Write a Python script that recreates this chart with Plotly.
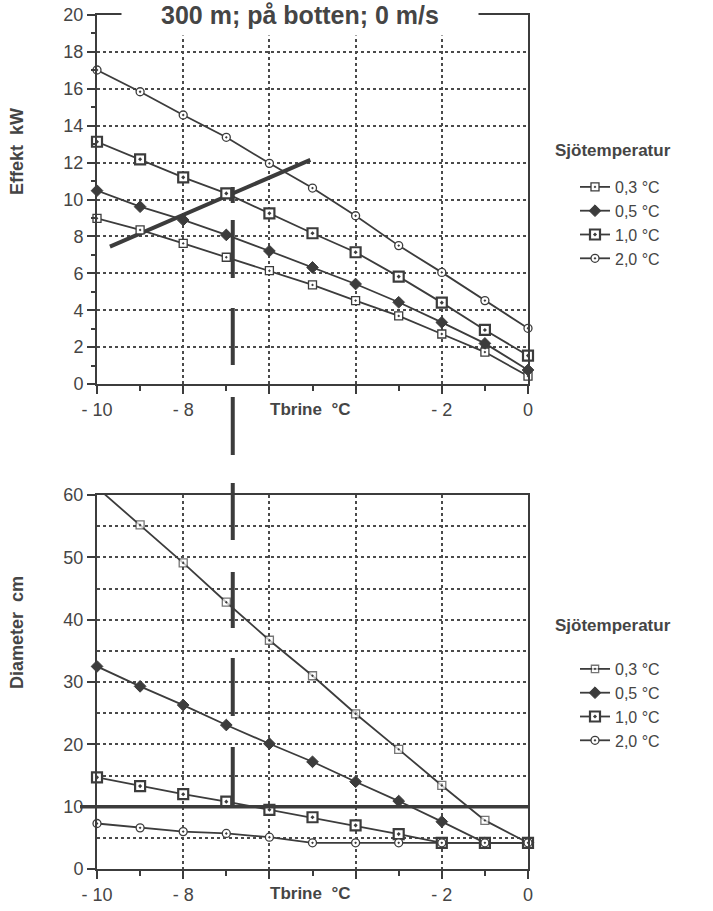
import plotly.graph_objects as go

# ---------------- data ----------------
tbrine = [-10, -9, -8, -7, -6, -5, -4, -3, -2, -1, 0]
series_names = ["0,3 °C", "0,5 °C", "1,0 °C", "2,0 °C"]

effekt_03 = [8.98, 8.35, 7.62, 6.87, 6.14, 5.37, 4.52, 3.69, 2.71, 1.73, 0.43]
effekt_05 = [10.48, 9.61, 8.89, 8.08, 7.21, 6.32, 5.42, 4.43, 3.34, 2.20, 0.76]
effekt_10 = [13.13, 12.18, 11.20, 10.33, 9.25, 8.17, 7.14, 5.82, 4.41, 2.93, 1.54]
effekt_20 = [17.02, 15.84, 14.58, 13.37, 11.96, 10.62, 9.12, 7.50, 6.05, 4.52, 3.02]

diam_03 = [61.2, 55.2, 49.1, 42.8, 36.7, 31.0, 24.9, 19.2, 13.4, 7.8, 4.2]
diam_05 = [32.5, 29.3, 26.3, 23.1, 20.1, 17.2, 14.0, 10.9, 7.6, 4.2, 4.2]
diam_10 = [14.7, 13.3, 12.0, 10.8, 9.5, 8.3, 7.0, 5.6, 4.2, 4.2, 4.2]
diam_20 = [7.3, 6.6, 6.0, 5.7, 5.1, 4.2, 4.2, 4.2, 4.2, 4.2, 4.2]

# hand-drawn reference lines
cross_line_x = [-9.7, -5.05]
cross_line_y = [7.45, 12.15]
diam_limit = 10
marker_x = -6.85

x_tickvals = [-10, -8, -6, -4, -2, 0]
x_ticktext = ["- 10", "- 8", "", "", "- 2", "0"]

# ---------------- styling ----------------
W, H = 713, 911
ML, MR, MT, MB = 97, 185, 15, 42
PW = W - ML - MR
PH = H - MT - MB
def py(p):  # pixel y -> paper y
    return (H - MB - p) / PH
def px(p):  # pixel x -> paper x
    return (p - ML) / PW

INK = "#3c3c3c"
TXT = "#454545"
FONT = "Liberation Sans, Arial, sans-serif"

styles = [
    dict(symbol="square-dot", size=8, color="white", line=dict(color=INK, width=1.3)),
    dict(symbol="diamond", size=9, color=INK, line=dict(color=INK, width=1)),
    dict(symbol="square-dot", size=10, color="white", line=dict(color=INK, width=2.2)),
    dict(symbol="circle-dot", size=8, color="white", line=dict(color=INK, width=1.3)),
]

fig = go.Figure()

top_sets = [effekt_03, effekt_05, effekt_10, effekt_20]
bot_sets = [diam_03, diam_05, diam_10, diam_20]

fig.add_trace(go.Scatter(x=cross_line_x, y=cross_line_y, mode="lines",
                         line=dict(color=INK, width=4), showlegend=False,
                         hoverinfo="skip", xaxis="x", yaxis="y"))

for name, vals, st in zip(series_names, top_sets, styles):
    fig.add_trace(go.Scatter(x=tbrine, y=vals, mode="lines+markers", name=name,
                             line=dict(color=INK, width=1.8), marker=st,
                             cliponaxis=False, xaxis="x", yaxis="y", legend="legend"))

for i, (name, vals, st) in enumerate(zip(series_names, bot_sets, styles)):
    m = dict(st)
    if i == 0:
        m["size"] = [0] + [st["size"]] * (len(vals) - 1)
    fig.add_trace(go.Scatter(x=tbrine, y=vals, mode="lines+markers", name=name,
                             line=dict(color=INK, width=1.8), marker=m,
                             cliponaxis=False, xaxis="x2", yaxis="y2", legend="legend2"))

axis_common = dict(
    showline=True, linecolor=INK, linewidth=2, mirror=True,
    ticks="outside", ticklen=8, tickwidth=2, tickcolor=INK,
    showgrid=True, gridcolor="#4a4a4a", gridwidth=1.5, griddash="dot",
    zeroline=False, automargin=False,
    tickfont=dict(family=FONT, size=18, color=TXT),
)

top_dom = [1 - (384 - MT) / PH, 1]
bot_dom = [0, (H - MB - 495) / PH]

fig.update_layout(
    width=W, height=H,
    margin=dict(l=ML, r=MR, t=MT, b=MB, autoexpand=False),
    paper_bgcolor="white", plot_bgcolor="white",
    font=dict(family=FONT, color=TXT),
    xaxis=dict(axis_common, domain=[0, 1], anchor="y", range=[-10, 0],
               tickvals=x_tickvals, ticktext=x_ticktext,
               minor=dict(dtick=1, ticks="outside", ticklen=5, tickwidth=1.5, tickcolor=INK, showgrid=False)),
    yaxis=dict(axis_common, domain=top_dom, anchor="x", range=[0, 20], dtick=2,
               minor=dict(dtick=1, ticks="outside", ticklen=4, tickwidth=1.5, tickcolor=INK, showgrid=False)),
    xaxis2=dict(axis_common, domain=[0, 1], anchor="y2", range=[-10, 0],
                tickvals=x_tickvals, ticktext=x_ticktext,
                minor=dict(dtick=1, ticks="outside", ticklen=5, tickwidth=1.5, tickcolor=INK, showgrid=False)),
    yaxis2=dict(axis_common, domain=bot_dom, anchor="x2", range=[0, 60], dtick=10,
                minor=dict(dtick=5, ticks="", showgrid=True, gridcolor="#4a4a4a", gridwidth=1.5, griddash="dot")),
    legend=dict(x=px(575), y=py(170), xanchor="left", yanchor="top",
                font=dict(family=FONT, size=16, color=TXT), bgcolor="rgba(0,0,0,0)",
                tracegroupgap=0),
    legend2=dict(x=px(575), y=py(652), xanchor="left", yanchor="top",
                 font=dict(family=FONT, size=16, color=TXT), bgcolor="rgba(0,0,0,0)",
                 tracegroupgap=0),
    showlegend=True,
)

def ann(text, xp, yp, size, angle=0, xanchor="center", **kw):
    d = dict(text=text, x=px(xp), y=py(yp), xref="paper", yref="paper",
             xanchor=xanchor, yanchor="middle", showarrow=False, textangle=angle,
             font=dict(family=FONT, size=size, color=TXT))
    d.update(kw)
    return d

annotations = [
    ann("<b>300 m; på botten; 0 m/s</b>", 300, 15, 25, bgcolor="white", width=354, height=38),
    ann("<b>Effekt  kW</b>", 17, 152, 18, angle=-90),
    ann("<b>Diameter  cm</b>", 17, 633, 18, angle=-90),
    ann("<b>Tbrine  °C</b>", 310, 410, 17),
    ann("<b>Tbrine  °C</b>", 310, 894, 17),
    ann("<b>Sjötemperatur</b>", 553, 151, 17, xanchor="left"),
    ann("<b>Sjötemperatur</b>", 553, 625, 17, xanchor="left"),
]
fig.update_layout(annotations=annotations)

shapes = [
    dict(type="line", xref="paper", yref="y2", x0=px(80), x1=1, y0=diam_limit, y1=diam_limit,
         line=dict(color=INK, width=3.5), layer="above"),
]
dash_px = [(187, 203), (220, 278), (308, 365), (397, 455), (483, 540), (572, 628), (658, 716), (747, 805)]
for a, b in dash_px:
    shapes.append(dict(type="line", xref="x", yref="paper", x0=marker_x, x1=marker_x,
                       y0=py(a), y1=py(b), line=dict(color=INK, width=4), layer="above"))
fig.update_layout(shapes=shapes)

fig.write_html("out.html")
